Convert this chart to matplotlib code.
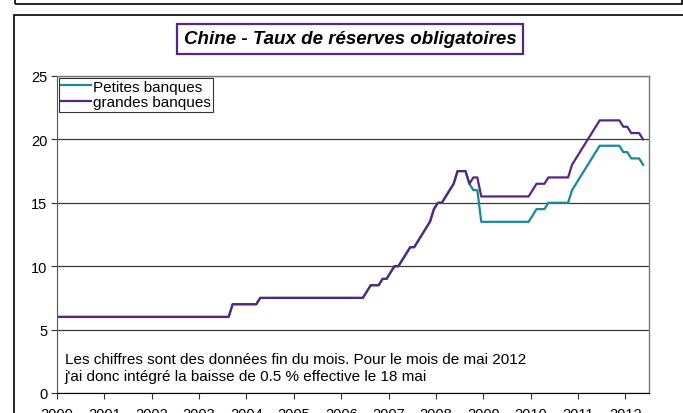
import numpy as np
import matplotlib.pyplot as plt
from matplotlib.patches import Rectangle

plt.rcParams['font.family'] = ['Liberation Sans', 'DejaVu Sans']

# taux de fin de mois, janvier 2000 -> mai 2012 (une ligne = une année)
grandes = [
    6, 6, 6, 6, 6, 6, 6, 6, 6, 6, 6, 6,                                  # 2000
    6, 6, 6, 6, 6, 6, 6, 6, 6, 6, 6, 6,                                  # 2001
    6, 6, 6, 6, 6, 6, 6, 6, 6, 6, 6, 6,                                  # 2002
    6, 6, 6, 6, 6, 6, 6, 6, 7, 7, 7, 7,                                  # 2003
    7, 7, 7, 7.5, 7.5, 7.5, 7.5, 7.5, 7.5, 7.5, 7.5, 7.5,                # 2004
    7.5, 7.5, 7.5, 7.5, 7.5, 7.5, 7.5, 7.5, 7.5, 7.5, 7.5, 7.5,          # 2005
    7.5, 7.5, 7.5, 7.5, 7.5, 7.5, 8, 8.5, 8.5, 8.5, 9, 9,                # 2006
    9.5, 10, 10, 10.5, 11, 11.5, 11.5, 12, 12.5, 13, 13.5, 14.5,         # 2007
    15, 15, 15.5, 16, 16.5, 17.5, 17.5, 17.5, 16.5, 17, 17, 15.5,        # 2008
    15.5, 15.5, 15.5, 15.5, 15.5, 15.5, 15.5, 15.5, 15.5, 15.5, 15.5, 15.5,  # 2009
    16, 16.5, 16.5, 16.5, 17, 17, 17, 17, 17, 17, 18, 18.5,              # 2010
    19, 19.5, 20, 20.5, 21, 21.5, 21.5, 21.5, 21.5, 21.5, 21.5, 21,      # 2011
    21, 20.5, 20.5, 20.5, 20,                                            # 2012
]
petites = [
    6, 6, 6, 6, 6, 6, 6, 6, 6, 6, 6, 6,                                  # 2000
    6, 6, 6, 6, 6, 6, 6, 6, 6, 6, 6, 6,                                  # 2001
    6, 6, 6, 6, 6, 6, 6, 6, 6, 6, 6, 6,                                  # 2002
    6, 6, 6, 6, 6, 6, 6, 6, 7, 7, 7, 7,                                  # 2003
    7, 7, 7, 7.5, 7.5, 7.5, 7.5, 7.5, 7.5, 7.5, 7.5, 7.5,                # 2004
    7.5, 7.5, 7.5, 7.5, 7.5, 7.5, 7.5, 7.5, 7.5, 7.5, 7.5, 7.5,          # 2005
    7.5, 7.5, 7.5, 7.5, 7.5, 7.5, 8, 8.5, 8.5, 8.5, 9, 9,                # 2006
    9.5, 10, 10, 10.5, 11, 11.5, 11.5, 12, 12.5, 13, 13.5, 14.5,         # 2007
    15, 15, 15.5, 16, 16.5, 17.5, 17.5, 17.5, 16.5, 16, 16, 13.5,        # 2008
    13.5, 13.5, 13.5, 13.5, 13.5, 13.5, 13.5, 13.5, 13.5, 13.5, 13.5, 13.5,  # 2009
    14, 14.5, 14.5, 14.5, 15, 15, 15, 15, 15, 15, 16, 16.5,              # 2010
    17, 17.5, 18, 18.5, 19, 19.5, 19.5, 19.5, 19.5, 19.5, 19.5, 19,      # 2011
    19, 18.5, 18.5, 18.5, 18,                                            # 2012
]
annees = list(range(2000, 2013))

TEAL = '#17899A'
VIOLET = '#5A2580'

# position de chaque mois au milieu de son intervalle
x = 2000 + (np.arange(len(grandes)) + 0.5) / 12

fig = plt.figure(figsize=(6.83, 4.14), dpi=100)
W, H = 683, 414

# cadres du document (haut coupé)
fig.patches.append(Rectangle((15 / W, 1 - 5 / H), 667 / W, 10 / H, transform=fig.transFigure,
                             fill=False, edgecolor='black', linewidth=1.2))
fig.patches.append(Rectangle((14 / W, -0.1), 1.0, 1 - 16 / H + 0.1, transform=fig.transFigure,
                             fill=False, edgecolor='black', linewidth=1.2))

ax = fig.add_axes([57 / W, 1 - 394 / H, (649 - 57) / W, (394 - 77) / H])
ax.plot(x, petites, color=TEAL, linewidth=1.6, label='Petites banques')
ax.plot(x, grandes, color=VIOLET, linewidth=1.6, label='grandes banques')

ax.set_xlim(2000, 2012.5)
ax.set_ylim(0, 25)
ax.set_yticks([0, 5, 10, 15, 20, 25])
ax.set_xticks(annees)
ax.set_xticklabels([str(a) for a in annees])
ax.tick_params(axis='both', labelsize=10.5, length=4, width=0.8, color='#333333')
ax.tick_params(axis='x', pad=6)
ax.tick_params(axis='y', pad=3)
ax.grid(axis='y', color='#3a3a3a', linewidth=0.9)
ax.set_axisbelow(True)
for s in ['top', 'right']:
    ax.spines[s].set_color('#777777')
    ax.spines[s].set_linewidth(1.0)
ax.spines['left'].set_color('#555555')
ax.spines['bottom'].set_color('black')

leg = ax.legend(loc='upper left', bbox_to_anchor=(0.0, 1.0), borderaxespad=0.1,
                fontsize=11, frameon=True, fancybox=False, handlelength=2.0,
                handletextpad=0.1, labelspacing=0.1, borderpad=0.15)
leg.get_frame().set_edgecolor('black')
leg.get_frame().set_linewidth(0.8)

ax.text(2000.16, 2.0, "Les chiffres sont des données fin du mois. Pour le mois de mai 2012\n"
        "j'ai donc intégré la baisse de 0.5 % effective le 18 mai",
        fontsize=11, va='center', ha='left', linespacing=1.25)

fig.text(350 / W, 1 - 40 / H, 'Chine - Taux de réserves obligatoires', fontsize=13.5,
         fontweight='bold', fontstyle='italic', ha='center', va='center',
         bbox=dict(boxstyle='square,pad=0.35', facecolor='white', edgecolor=VIOLET, linewidth=1.6))

fig.savefig('out.png', dpi=100)
